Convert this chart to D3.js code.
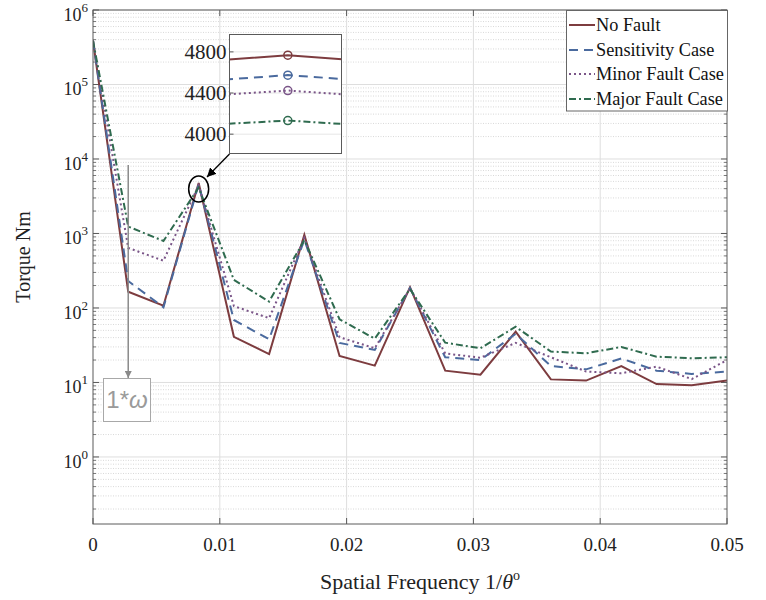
<!DOCTYPE html>
<html><head><meta charset="utf-8">
<script src="https://cdn.jsdelivr.net/npm/d3@7"></script>
<style>body{margin:0;background:#fff;} svg{display:block;}</style>
</head><body>
<svg id="chart" width="766" height="600"></svg>
<script>
// ---- data ----
const harmonicIndex = [0,1,2,3,4,5,6,7,8,9,10,11,12,13,14,15,16,17,18]; // frequency = k/360
const seriesNames = ["No Fault","Sensitivity Case","Minor Fault Case","Major Fault Case"];
const noFault     = [387000,165,107,4768,41,24,960,22.7,16.8,190,14.4,12.7,48,11,10.6,16.6,9.5,9.2,10.6];
const sensitivity = [387000,230,102,4574,69,38,830,34,27.3,185,21.8,20,45,16.6,15,21,14.4,13,14];
const minorFault  = [387000,640,431,4424,106,73,870,40.5,28.8,183,24.5,21.5,34,21.8,14,13.3,16.3,11.1,20];
const majorFault  = [387000,1240,793,4132,238,122,815,70.5,38.7,180,34.2,28.8,56,26,24.6,30,22.2,21.1,21.8];
const xTicks = [0,0.01,0.02,0.03,0.04,0.05];
const yDecades = [0,1,2,3,4,5,6];
const insetTicks = [4000,4400,4800];

const colors = ["#7d3c3f","#4a6a9e","#7a5588","#2f6b4f"];
const dashes = [null,"9,6","2,3","7,3,2,3"];
const allSeries = [noFault,sensitivity,minorFault,majorFault];
const freq = harmonicIndex.map(k => k/360);

const svg = d3.select("#chart");
const L=93,R=727,T=10,B=524;
const x = d3.scaleLinear().domain([0,0.05]).range([L,R]);
const y = d3.scaleLog().domain([Math.pow(10,-0.9),1e6]).range([B,T]);
const serif = "'Liberation Serif','Times New Roman',serif";

const defs = svg.append("defs");
defs.append("clipPath").attr("id","plotclip").append("rect").attr("x",L).attr("y",T).attr("width",R-L).attr("height",B-T);

// grid
const g = svg.append("g");
const minorVals = [];
for (let d=-1; d<6; d++) for (let m=2; m<=9; m++){ const v=m*Math.pow(10,d); if (v>=y.domain()[0] && v<=1e6) minorVals.push(v); }
g.selectAll(".mg").data(minorVals).enter().append("line")
 .attr("x1",L).attr("x2",R).attr("y1",d=>y(d)).attr("y2",d=>y(d))
 .attr("stroke","#cfcfcf").attr("stroke-width",0.8).attr("stroke-dasharray","1,1.5");
g.selectAll(".Mg").data(yDecades.map(d=>Math.pow(10,d))).enter().append("line")
 .attr("x1",L).attr("x2",R).attr("y1",d=>y(d)).attr("y2",d=>y(d))
 .attr("stroke","#dedede").attr("stroke-width",1);
g.selectAll(".vg").data(xTicks.slice(1,-1)).enter().append("line")
 .attr("y1",T).attr("y2",B).attr("x1",d=>x(d)).attr("x2",d=>x(d))
 .attr("stroke","#dedede").attr("stroke-width",1);

// axes ticks (inward on all sides)
const axisColor="#5a5a5a";
const ax = svg.append("g");
xTicks.forEach(t=>{
  ax.append("line").attr("x1",x(t)).attr("x2",x(t)).attr("y1",B).attr("y2",B-6).attr("stroke",axisColor);
  ax.append("line").attr("x1",x(t)).attr("x2",x(t)).attr("y1",T).attr("y2",T+6).attr("stroke",axisColor);
});
yDecades.forEach(d=>{
  const v=Math.pow(10,d);
  ax.append("line").attr("x1",L).attr("x2",L+6).attr("y1",y(v)).attr("y2",y(v)).attr("stroke",axisColor);
  ax.append("line").attr("x1",R).attr("x2",R-6).attr("y1",y(v)).attr("y2",y(v)).attr("stroke",axisColor);
});
minorVals.forEach(v=>{
  ax.append("line").attr("x1",L).attr("x2",L+3).attr("y1",y(v)).attr("y2",y(v)).attr("stroke",axisColor).attr("stroke-width",0.8);
  ax.append("line").attr("x1",R).attr("x2",R-3).attr("y1",y(v)).attr("y2",y(v)).attr("stroke",axisColor).attr("stroke-width",0.8);
});

// series
const line = d3.line().x((d,i)=>x(freq[i])).y(d=>y(d));
const lg = svg.append("g").attr("clip-path","url(#plotclip)");
allSeries.forEach((s,i)=>{
  lg.append("path").datum(s).attr("d",line).attr("fill","none")
    .attr("stroke",colors[i]).attr("stroke-width",2)
    .attr("stroke-dasharray",dashes[i]).attr("stroke-linejoin","miter");
});

// frame
svg.append("rect").attr("x",L).attr("y",T).attr("width",R-L).attr("height",B-T)
  .attr("fill","none").attr("stroke",axisColor).attr("stroke-width",1);

// tick labels
svg.selectAll(".xl").data(xTicks).enter().append("text")
  .attr("x",d=>x(d)).attr("y",551).attr("text-anchor","middle")
  .attr("font-family",serif).attr("font-size",19).attr("fill","#222")
  .text(d=>d===0?"0":d3.format(".2f")(d));
yDecades.forEach(d=>{
  const t = svg.append("text").attr("x",L-5).attr("y",y(Math.pow(10,d))+11)
   .attr("text-anchor","end").attr("font-family",serif).attr("font-size",18).attr("fill","#222");
  t.append("tspan").text("10");
  t.append("tspan").attr("dy",-9).attr("font-size",13).text(d);
});

// axis labels
svg.append("text").attr("transform","translate(30,257) rotate(-90)").attr("text-anchor","middle")
  .attr("font-family",serif).attr("font-size",20).attr("fill","#222").text("Torque Nm");
const xl = svg.append("text").attr("x",420).attr("y",589).attr("text-anchor","middle")
  .attr("font-family",serif).attr("font-size",22).attr("fill","#222");
xl.append("tspan").text("Spatial Frequency 1/");
xl.append("tspan").attr("font-style","italic").text("θ");
xl.append("tspan").attr("dy",-9).attr("font-size",14).text("o");

// 1*omega annotation
defs.append("marker").attr("id","garrow").attr("viewBox","0 0 10 10").attr("refX",10).attr("refY",5)
  .attr("markerWidth",7).attr("markerHeight",7).attr("markerUnits","userSpaceOnUse").attr("orient","auto")
  .append("path").attr("d","M0,0 L10,5 L0,10 z").attr("fill","#8a8a8a");
const xa = x(freq[1]);
svg.append("line").attr("x1",xa).attr("x2",xa).attr("y1",165).attr("y2",378)
  .attr("stroke","#8a8a8a").attr("stroke-width",1.5).attr("marker-end","url(#garrow)");
svg.append("rect").attr("x",103.5).attr("y",378.5).attr("width",47).attr("height",43)
  .attr("fill","#fff").attr("stroke","#a8a8a8").attr("stroke-width",1);
const om = svg.append("text").attr("x",127).attr("y",408).attr("text-anchor","middle")
  .attr("font-family","'Liberation Sans',Arial,sans-serif").attr("font-size",24).attr("fill","#9a9a9a");
om.append("tspan").text("1*");
om.append("tspan").attr("font-style","italic").text("ω");

// ellipse + arrow to inset
defs.append("marker").attr("id","barrow").attr("viewBox","0 0 10 10").attr("refX",10).attr("refY",5)
  .attr("markerWidth",9).attr("markerHeight",9).attr("markerUnits","userSpaceOnUse").attr("orient","auto")
  .append("path").attr("d","M0,0 L10,5 L0,10 z").attr("fill","#000");
svg.append("ellipse").attr("cx",x(freq[3])).attr("cy",189).attr("rx",10).attr("ry",13)
  .attr("fill","none").attr("stroke","#000").attr("stroke-width",1.5);
svg.append("line").attr("x1",229.5).attr("y1",154).attr("x2",207).attr("y2",177)
  .attr("stroke","#000").attr("stroke-width",1.3).attr("marker-end","url(#barrow)");

// inset
const IL=229.5, IR=341.5, IT=34.5, IB=153.5;
const xi = d3.scaleLinear().domain([freq[3]-2.5e-5, freq[3]+2.3e-5]).range([IL,IR]);
const yi = d3.scaleLinear().domain([3812,4969]).range([IB,IT]);
defs.append("clipPath").attr("id","insetclip").append("rect").attr("x",IL).attr("y",IT).attr("width",IR-IL).attr("height",IB-IT);
svg.append("rect").attr("x",IL).attr("y",IT).attr("width",IR-IL).attr("height",IB-IT).attr("fill","#fff");
svg.selectAll(".ig").data(insetTicks).enter().append("line")
  .attr("x1",IL).attr("x2",IR).attr("y1",d=>yi(d)).attr("y2",d=>yi(d)).attr("stroke","#e6e6e6");
const ig = svg.append("g").attr("clip-path","url(#insetclip)");
const iline = d3.line().x((d,i)=>xi(freq[i])).y(d=>yi(d));
allSeries.forEach((s,i)=>{
  ig.append("path").datum(s).attr("d",iline).attr("fill","none")
    .attr("stroke",colors[i]).attr("stroke-width",2).attr("stroke-dasharray",dashes[i]);
  ig.append("circle").attr("cx",xi(freq[3])).attr("cy",yi(s[3])).attr("r",4)
    .attr("fill","none").attr("stroke",colors[i]).attr("stroke-width",1.5);
});
insetTicks.forEach(t=>{
  svg.append("line").attr("x1",IL).attr("x2",IL+4).attr("y1",yi(t)).attr("y2",yi(t)).attr("stroke",axisColor);
  svg.append("text").attr("x",IL-3).attr("y",yi(t)+7).attr("text-anchor","end")
    .attr("font-family",serif).attr("font-size",21).attr("fill","#222").text(t);
});
svg.append("rect").attr("x",IL).attr("y",IT).attr("width",IR-IL).attr("height",IB-IT)
  .attr("fill","none").attr("stroke",axisColor).attr("stroke-width",1);

// legend
const LL=566.5, LT=10.5, LR=727.5, LB=111;
svg.append("rect").attr("x",LL).attr("y",LT).attr("width",LR-LL).attr("height",LB-LT)
  .attr("fill","#fff").attr("stroke","#666").attr("stroke-width",1);
const rowY=[25,50,74,99];
seriesNames.forEach((n,i)=>{
  svg.append("line").attr("x1",569).attr("x2",595).attr("y1",rowY[i]).attr("y2",rowY[i])
    .attr("stroke",colors[i]).attr("stroke-width",2).attr("stroke-dasharray",dashes[i]);
  svg.append("text").attr("x",596).attr("y",rowY[i]+6).attr("font-family",serif)
    .attr("font-size",18.3).attr("fill","#111").text(n);
});
</script>
</body></html>
